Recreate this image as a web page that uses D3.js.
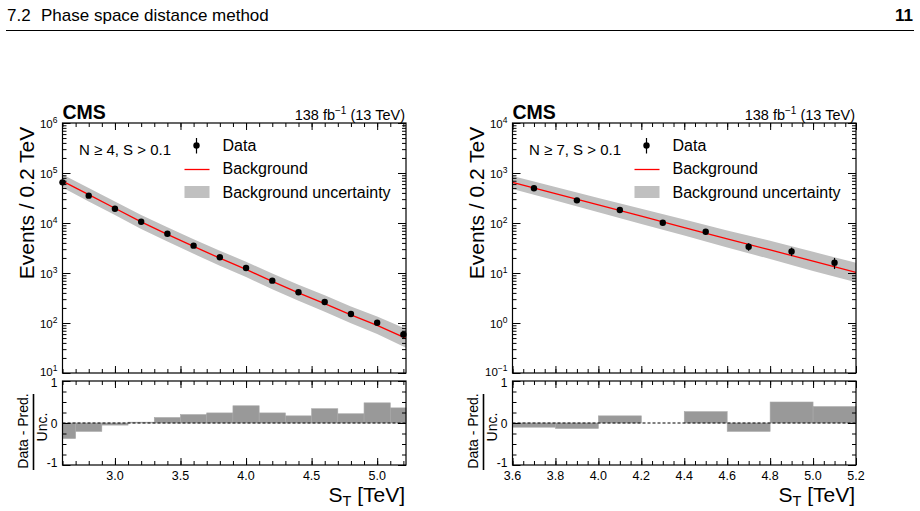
<!DOCTYPE html>
<html>
<head>
<meta charset="utf-8">
<script src="https://cdn.jsdelivr.net/npm/d3@7"></script>
<style>
body { margin: 0; background: #fff; }
svg { font-family: "Liberation Sans", Arial, Helvetica, sans-serif; }
</style>
</head>
<body>
<svg id="chart" width="920" height="511"></svg>
<script>
// ---- left plot: N >= 4, S > 0.1 ----
const centersA = [2.6, 2.8, 3.0, 3.2, 3.4, 3.6, 3.8, 4.0, 4.2, 4.4, 4.6, 4.8, 5.0, 5.2];
const dataA = [65000, 35200, 19300, 10600, 6100, 3520, 2060, 1260, 703, 411, 263, 151, 101, 59];
const errA = [255, 188, 139, 103, 78, 59, 45, 35, 27, 20, 16, 12, 10, 8];
const bkgXA = [2.6, 2.8, 3.0, 3.2, 3.4, 3.6, 3.8, 4.0, 4.2, 4.4, 4.6, 4.8, 5.0, 5.2, 5.22];
const bkgA = [69000, 37000, 19700, 10500, 5900, 3400, 1980, 1180, 680, 400, 245, 145, 90, 52, 49];
const bkgUpA = [93000, 50000, 27000, 14500, 8200, 4750, 2800, 1680, 980, 580, 360, 215, 135, 80, 76];
const bkgDnA = [51000, 27000, 14400, 7600, 4250, 2420, 1400, 830, 475, 278, 168, 99, 60, 34, 32];
const pullEdgesA = [2.6, 2.7, 2.9, 3.1, 3.3, 3.5, 3.7, 3.9, 4.1, 4.3, 4.5, 4.7, 4.9, 5.1, 5.22];
const pullA = [-0.37, -0.2, -0.05, 0.02, 0.13, 0.2, 0.24, 0.41, 0.24, 0.17, 0.34, 0.22, 0.48, 0.36];
const xMajorA = [3.0, 3.5, 4.0, 4.5, 5.0];

// ---- right plot: N >= 7, S > 0.1 ----
const centersB = [3.7, 3.9, 4.1, 4.3, 4.5, 4.7, 4.9, 5.1];
const dataB = [494, 284, 182, 101, 67, 33.6, 27, 16];
const errB = [22, 17, 13.5, 10, 8.2, 5.8, 5.2, 4];
const bkgXB = [3.6, 3.8, 4.0, 4.2, 4.4, 4.6, 4.8, 5.0, 5.2];
const bkgB = [650, 386, 230, 137, 81, 48, 29, 17.2, 10.3];
const bkgUpB = [870, 525, 318, 193, 117, 71, 44, 26.5, 16];
const bkgDnB = [480, 283, 165, 96, 56, 32.5, 19, 11, 6.5];
const pullEdgesB = [3.6, 3.8, 4.0, 4.2, 4.4, 4.6, 4.8, 5.0, 5.2];
const pullB = [-0.1, -0.13, 0.17, 0, 0.27, -0.2, 0.5, 0.39];
const xMajorB = [3.6, 3.8, 4.0, 4.2, 4.4, 4.6, 4.8, 5.0, 5.2];

const svg = d3.select("#chart");

// page header
svg.append("text").attr("x", 7).attr("y", 21).attr("font-size", 17).text("7.2");
svg.append("text").attr("x", 41).attr("y", 21).attr("font-size", 17).text("Phase space distance method");
svg.append("text").attr("x", 913).attr("y", 21).attr("font-size", 17).attr("font-weight", "bold")
  .attr("text-anchor", "end").text("11");
svg.append("line").attr("x1", 6).attr("x2", 914).attr("y1", 30.5).attr("y2", 30.5)
  .attr("stroke", "#000").attr("stroke-width", 1);

const plots = [
  {left: 62.5, xDomain: [2.6, 5.22], yDomain: [10, 1e6], label: "N \u2265 4, S > 0.1",
   centers: centersA, data: dataA, err: errA, bx: bkgXA, bkg: bkgA, up: bkgUpA, dn: bkgDnA,
   edges: pullEdgesA, pull: pullA, xMajor: xMajorA, xMinorStep: 0.1, id: "a"},
  {left: 512.5, xDomain: [3.6, 5.2], yDomain: [0.1, 1e4], label: "N \u2265 7, S > 0.1",
   centers: centersB, data: dataB, err: errB, bx: bkgXB, bkg: bkgB, up: bkgUpB, dn: bkgDnB,
   edges: pullEdgesB, pull: pullB, xMajor: xMajorB, xMinorStep: 0.05, id: "b"}
];

function tickAxis(g, axisFn, scale, values, size, tr) {
  g.append("g").attr("transform", tr)
    .call(axisFn(scale).tickValues(values).tickSize(size).tickFormat(""))
    .call(s => s.select(".domain").remove())
    .selectAll("line").attr("stroke", "#000");
}

plots.forEach(p => {
  const W = 343.5;
  const x = d3.scaleLinear().domain(p.xDomain).range([p.left, p.left + W]);
  const y = d3.scaleLog().domain(p.yDomain).range([373, 123]);
  const r = d3.scaleLinear().domain([-1, 1]).range([465, 381]);
  const g = svg.append("g");
  const R = p.left + W;

  g.append("clipPath").attr("id", "clip" + p.id)
    .append("rect").attr("x", p.left).attr("y", 123).attr("width", W).attr("height", 250);

  // band + background line
  const pts = p.bx.map((v, i) => ({x: v, b: p.bkg[i], u: p.up[i], d: p.dn[i]}));
  g.append("path").datum(pts).attr("clip-path", `url(#clip${p.id})`)
    .attr("fill", "#c0c0c0")
    .attr("d", d3.area().x(d => x(d.x)).y0(d => y(d.d)).y1(d => y(d.u)));
  g.append("path").datum(pts).attr("clip-path", `url(#clip${p.id})`)
    .attr("fill", "none").attr("stroke", "#ff0000").attr("stroke-width", 1.3)
    .attr("d", d3.line().x(d => x(d.x)).y(d => y(d.b)));

  // data points
  const dp = p.centers.map((c, i) => ({x: c, v: p.data[i], e: p.err[i]}));
  g.selectAll(".eb").data(dp).enter().append("line")
    .attr("x1", d => x(d.x)).attr("x2", d => x(d.x))
    .attr("y1", d => y(d.v + d.e)).attr("y2", d => y(d.v - d.e))
    .attr("stroke", "#000").attr("stroke-width", 1.2);
  g.selectAll(".pt").data(dp).enter().append("circle")
    .attr("cx", d => x(d.x)).attr("cy", d => y(d.v)).attr("r", 3.2).attr("fill", "#000");

  // main frame ticks
  const [lo, hi] = p.yDomain;
  const majors = [];
  const minors = [];
  for (let k = Math.round(Math.log10(lo)); k <= Math.round(Math.log10(hi)); k++) {
    majors.push(Math.pow(10, k));
    if (k < Math.round(Math.log10(hi))) for (let m = 2; m <= 9; m++) minors.push(m * Math.pow(10, k));
  }
  const xMinor = d3.range(p.xDomain[0], p.xDomain[1] + 1e-9, p.xMinorStep).map(v => +v.toFixed(3));
  tickAxis(g, d3.axisLeft, y, majors, -8, `translate(${p.left},0)`);
  tickAxis(g, d3.axisLeft, y, minors, -4, `translate(${p.left},0)`);
  tickAxis(g, d3.axisRight, y, majors, -8, `translate(${R},0)`);
  tickAxis(g, d3.axisRight, y, minors, -4, `translate(${R},0)`);
  tickAxis(g, d3.axisBottom, x, p.xMajor, -7, `translate(0,373)`);
  tickAxis(g, d3.axisBottom, x, xMinor, -4, `translate(0,373)`);
  tickAxis(g, d3.axisTop, x, p.xMajor, -7, `translate(0,123)`);
  tickAxis(g, d3.axisTop, x, xMinor, -4, `translate(0,123)`);

  // y labels 10^k (the lowest sits a bit higher so it clears the ratio label)
  majors.forEach((v, i) => {
    const t = g.append("text").attr("x", p.left - 5).attr("y", y(v) + (i === 0 ? 2.5 : 5))
      .attr("font-size", 11.5).attr("text-anchor", "end");
    t.append("tspan").text("10");
    t.append("tspan").attr("dy", -5).attr("font-size", 8.5).text(d3.format("d")(Math.log10(v)).replace("-", "\u2212"));
  });

  g.append("rect").attr("x", p.left).attr("y", 123).attr("width", W).attr("height", 250)
    .attr("fill", "none").attr("stroke", "#000").attr("stroke-width", 1.2);

  // ratio panel
  const bars = p.pull.map((v, i) => ({x0: p.edges[i], x1: p.edges[i + 1], v: v}));
  g.selectAll(".bar").data(bars).enter().append("rect")
    .attr("x", d => x(d.x0)).attr("width", d => x(d.x1) - x(d.x0))
    .attr("y", d => Math.min(r(d.v), r(0))).attr("height", d => Math.abs(r(d.v) - r(0)))
    .attr("fill", "#999999").attr("stroke", "#a8a8a8").attr("stroke-width", 0.6);
  g.append("line").attr("x1", p.left).attr("x2", R).attr("y1", r(0)).attr("y2", r(0))
    .attr("stroke", "#000").attr("stroke-dasharray", "3,2");

  const rMinor = [-0.75, -0.5, -0.25, 0.25, 0.5, 0.75];
  tickAxis(g, d3.axisLeft, r, [-1, 0, 1], -8, `translate(${p.left},0)`);
  tickAxis(g, d3.axisLeft, r, rMinor, -4, `translate(${p.left},0)`);
  tickAxis(g, d3.axisRight, r, [-1, 0, 1], -8, `translate(${R},0)`);
  tickAxis(g, d3.axisRight, r, rMinor, -4, `translate(${R},0)`);
  tickAxis(g, d3.axisBottom, x, p.xMajor, -7, `translate(0,465)`);
  tickAxis(g, d3.axisBottom, x, xMinor, -4, `translate(0,465)`);
  tickAxis(g, d3.axisTop, x, p.xMajor, -7, `translate(0,381)`);
  tickAxis(g, d3.axisTop, x, xMinor, -4, `translate(0,381)`);

  [[-1, 1.5], [0, 4.5], [1, 6]].forEach(([v, dy]) => {
    g.append("text").attr("x", p.left - 5).attr("y", r(v) + dy).attr("font-size", 12)
      .attr("text-anchor", "end").text(v);
  });
  p.xMajor.forEach(v => {
    g.append("text").attr("x", x(v)).attr("y", 480).attr("font-size", 12.5)
      .attr("text-anchor", "middle").text(d3.format(".1f")(v));
  });

  g.append("rect").attr("x", p.left).attr("y", 381).attr("width", W).attr("height", 84)
    .attr("fill", "none").attr("stroke", "#000").attr("stroke-width", 1.2);

  // texts
  g.append("text").attr("x", p.left).attr("y", 119).attr("font-size", 19.5)
    .attr("font-weight", "bold").text("CMS");
  const lum = g.append("text").attr("x", R - 1).attr("y", 120).attr("font-size", 14.5)
    .attr("text-anchor", "end");
  lum.append("tspan").text("138 fb");
  lum.append("tspan").attr("dy", -6).attr("font-size", 10).text("\u22121");
  lum.append("tspan").attr("dy", 6).text(" (13 TeV)");

  g.append("text").attr("x", p.left + 16.5).attr("y", 155).attr("font-size", 15)
    .text(p.label);

  // legend
  const lx = p.left + 122;
  g.append("line").attr("x1", lx + 12).attr("x2", lx + 12).attr("y1", 138).attr("y2", 153.5)
    .attr("stroke", "#000").attr("stroke-width", 1.2);
  g.append("circle").attr("cx", lx + 12).attr("cy", 145.5).attr("r", 3.2);
  g.append("line").attr("x1", lx).attr("x2", lx + 25).attr("y1", 169.5).attr("y2", 169.5)
    .attr("stroke", "#ff0000").attr("stroke-width", 1.3);
  g.append("rect").attr("x", lx).attr("y", 186).attr("width", 25).attr("height", 12)
    .attr("fill", "#c0c0c0");
  [["Data", 151], ["Background", 174], ["Background uncertainty", 198]].forEach(([t, yy]) => {
    g.append("text").attr("x", lx + 38).attr("y", yy).attr("font-size", 16).text(t);
  });

  // axis titles
  g.append("text").attr("transform", `translate(${p.left - 29},203) rotate(-90)`)
    .attr("font-size", 21).attr("text-anchor", "middle").text("Events / 0.2 TeV");
  g.append("text").attr("transform", `translate(${p.left - 35},431) rotate(-90)`)
    .attr("font-size", 14).attr("text-anchor", "middle").text("Data - Pred.");
  g.append("line").attr("x1", p.left - 29).attr("x2", p.left - 29).attr("y1", 394).attr("y2", 470)
    .attr("stroke", "#000").attr("stroke-width", 1.6);
  g.append("text").attr("transform", `translate(${p.left - 15.5},427) rotate(-90)`)
    .attr("font-size", 14).attr("text-anchor", "middle").text("Unc.");

  const xt = g.append("text").attr("x", R - 1).attr("y", 502).attr("font-size", 21)
    .attr("text-anchor", "end");
  xt.append("tspan").text("S");
  xt.append("tspan").attr("dy", 4).attr("font-size", 14.5).text("T");
  xt.append("tspan").attr("dy", -4).text(" [TeV]");
});
</script>
</body>
</html>
